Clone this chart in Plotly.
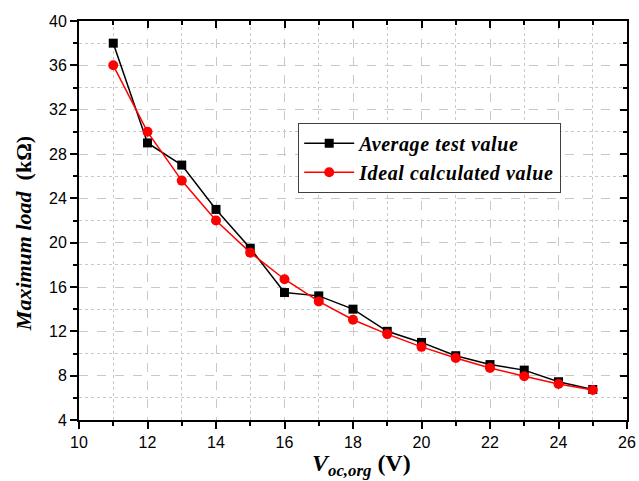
import plotly.graph_objects as go

voc = [11, 12, 13, 14, 15, 16, 17, 18, 19, 20, 21, 22, 23, 24, 25]
avg_test = [38.0, 29.0, 27.0, 23.0, 19.5, 15.5, 15.2, 14.0, 12.0, 11.0, 9.8, 9.0, 8.5, 7.45, 6.75]
ideal_calc = [36.0, 30.0, 25.6, 22.0, 19.1, 16.7, 14.7, 13.05, 11.75, 10.6, 9.6, 8.7, 7.95, 7.25, 6.7]

series_names = ["Average test value", "Ideal calculated value"]

x_range = [10, 26]
y_range = [4, 40]

x_title = "<b><i>V<sub>oc,org</sub></i> (V)</b>"
y_title = "<b><i>Maximum load</i>  (kΩ)</b>"


def legend_label(s):
    return '<span style="letter-spacing:0.6px"><b><i>' + s + '</i></b></span>'


fig = go.Figure()
fig.add_trace(go.Scatter(
    x=voc, y=avg_test, mode="lines+markers", name=legend_label(series_names[0]),
    line=dict(color="black", width=1.5),
    marker=dict(symbol="square", size=9, color="black"),
))
fig.add_trace(go.Scatter(
    x=voc, y=ideal_calc, mode="lines+markers", name=legend_label(series_names[1]),
    line=dict(color="#ff0000", width=1.5),
    marker=dict(symbol="circle", size=10, color="#ff0000"),
))
# helper trace for the mirrored (top/right) axes
fig.add_trace(go.Scatter(
    x=[x_range[0]], y=[y_range[0]], xaxis="x2", yaxis="y2", mode="markers",
    marker=dict(opacity=0), showlegend=False, hoverinfo="skip",
))

tickfont = dict(family="Liberation Sans, Arial", size=16, color="black")
serif = "Liberation Serif, Times New Roman"
grid_col = "#c8c8c8"

fig.update_layout(
    width=639, height=481,
    margin=dict(l=79, r=12, t=21, b=61),
    paper_bgcolor="white", plot_bgcolor="white",
    showlegend=True,
    legend=dict(
        x=0.4, y=0.745, xanchor="left", yanchor="top",
        bgcolor="white", bordercolor="#404040", borderwidth=1,
        font=dict(family=serif, size=20, color="black"),
        tracegroupgap=0, itemwidth=50,
    ),
    xaxis=dict(
        range=x_range, dtick=2, tick0=10, automargin=False,
        showline=True, linecolor="black", linewidth=2,
        ticks="outside", ticklen=7, tickwidth=2, tickcolor="black",
        tickfont=tickfont,
        showgrid=True, gridcolor=grid_col, griddash="dash", gridwidth=1,
        zeroline=False,
        minor=dict(dtick=1, ticks="outside", ticklen=4, tickwidth=2, tickcolor="black",
                   showgrid=True, gridcolor=grid_col, griddash="dot", gridwidth=1),
    ),
    yaxis=dict(
        range=y_range, dtick=4, tick0=4, automargin=False,
        showline=True, linecolor="black", linewidth=2,
        ticks="outside", ticklen=7, tickwidth=2, tickcolor="black",
        tickfont=tickfont,
        showgrid=True, gridcolor=grid_col, griddash="dash", gridwidth=1,
        zeroline=False,
        minor=dict(dtick=2, ticks="outside", ticklen=4, tickwidth=2, tickcolor="black",
                   showgrid=True, gridcolor=grid_col, griddash="dot", gridwidth=1),
    ),
    xaxis2=dict(
        range=x_range, dtick=2, tick0=10, overlaying="x", side="top", anchor="y2",
        automargin=False,
        showline=True, linecolor="black", linewidth=2,
        ticks="inside", ticklen=7, tickwidth=2, tickcolor="black",
        showticklabels=False, showgrid=False, zeroline=False,
        minor=dict(dtick=1, ticks="inside", ticklen=4, tickwidth=2, tickcolor="black", showgrid=False),
    ),
    yaxis2=dict(
        range=y_range, dtick=4, tick0=4, overlaying="y", side="right", anchor="x2",
        automargin=False,
        showline=True, linecolor="black", linewidth=2,
        ticks="inside", ticklen=7, tickwidth=2, tickcolor="black",
        showticklabels=False, showgrid=False, zeroline=False,
        minor=dict(dtick=2, ticks="inside", ticklen=4, tickwidth=2, tickcolor="black", showgrid=False),
    ),
    annotations=[
        dict(text=y_title, textangle=-90, xref="paper", yref="paper",
             x=-0.102, y=0.466, xanchor="center", yanchor="middle", showarrow=False,
             font=dict(family=serif, size=22, color="black")),
        dict(text=x_title, xref="paper", yref="paper",
             x=0.516, y=-0.112, xanchor="center", yanchor="middle", showarrow=False,
             font=dict(family=serif, size=24, color="black")),
    ],
)

fig.write_html("out.html")
